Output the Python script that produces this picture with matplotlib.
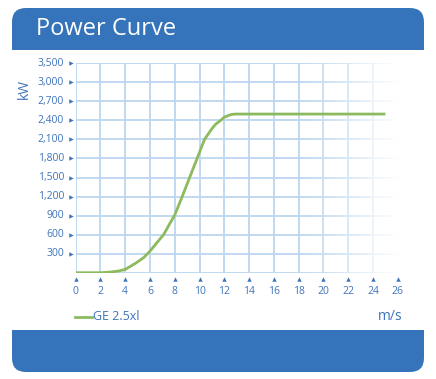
import numpy as np
import matplotlib.pyplot as plt
from matplotlib.patches import FancyBboxPatch, Rectangle
from matplotlib.transforms import blended_transform_factory

plt.rcParams['font.family'] = ['Open Sans', 'DejaVu Sans']

# data
wind_speed = [0, 2, 2.8, 3.5, 4, 4.9, 5.5, 6, 6.5, 7.1, 7.5, 8, 8.6, 9.2, 9.8,
              10.4, 11, 11.3, 11.7, 12, 12.3, 12.5, 12.7, 12.9, 25]
power_kw = [0, 0, 10, 28, 52, 157, 240, 340, 460, 600, 740, 910, 1200, 1500, 1800,
            2100, 2270, 2340, 2400, 2450, 2475, 2490, 2497, 2500, 2500]
x_ticks = list(range(0, 27, 2))
y_ticks = [300, 600, 900, 1200, 1500, 1800, 2100, 2400, 2700, 3000, 3300]
y_labels = ['300', '600', '900', '1,200', '1,500', '1,800', '2,100', '2,400',
            '2,700', '3,000', '3,500']
series_name = 'GE 2.5xl'

W, H = 436, 379
blue = '#3574bb'
txt = '#3e74ba'
grid_c = '#bcd7ef'
green = '#8cbb5e'

fig = plt.figure(figsize=(W / 100, H / 100), dpi=100)
fig.patch.set_facecolor('white')


def px(x, y):
    return x / W, 1 - y / H


# header bar (rounded top corners)
r = 14
hx0, hx1, hy0, hy1 = 12, 424, 8, 50
fig.patches.append(FancyBboxPatch((hx0 / W, 1 - hy1 / H), (hx1 - hx0) / W, (hy1 - hy0) / H,
                                  boxstyle=f'round,pad=0,rounding_size={r / W}',
                                  transform=fig.transFigure, fc=blue, ec='none',
                                  mutation_aspect=W / H))
fig.patches.append(Rectangle((hx0 / W, 1 - hy1 / H), (hx1 - hx0) / W, (hy1 - hy0) / 2 / H,
                             transform=fig.transFigure, fc=blue, ec='none'))
fig.text(*px(36, 29), 'Power Curve', color='white', fontsize=17, va='center', ha='left')

# footer bar (rounded bottom corners)
fy0, fy1 = 330, 372
fig.patches.append(FancyBboxPatch((hx0 / W, 1 - fy1 / H), (hx1 - hx0) / W, (fy1 - fy0) / H,
                                  boxstyle=f'round,pad=0,rounding_size={r / W}',
                                  transform=fig.transFigure, fc=blue, ec='none',
                                  mutation_aspect=W / H))
fig.patches.append(Rectangle((hx0 / W, 1 - (fy0 + (fy1 - fy0) / 2) / H), (hx1 - hx0) / W,
                             (fy1 - fy0) / 2 / H, transform=fig.transFigure, fc=blue, ec='none'))

# plot area
x0, x1, y0, y1 = 75.7, 397.7, 63.3, 272.7
ax = fig.add_axes([x0 / W, 1 - y1 / H, (x1 - x0) / W, (y1 - y0) / H])
for s in ax.spines.values():
    s.set_visible(False)
ax.set_xticks([])
ax.set_yticks([])

for xt in x_ticks:
    ax.axvline(xt, color=grid_c, lw=1.3, zorder=1)
for yt in [0] + y_ticks:
    ax.axhline(yt, color=grid_c, lw=1.3, zorder=1)

# fade the grid out to the right
grad = np.zeros((2, 200, 4))
grad[..., :3] = 1
grad[..., 3] = np.linspace(0, 1, 200) ** 1.2
ax.imshow(grad, extent=[18, 26, -50, 3350], aspect='auto', zorder=2, interpolation='bilinear')
ax.set_xlim(0, 26)
ax.set_ylim(0, 3300)

ax.plot(wind_speed, power_kw, color=green, lw=2, zorder=3, solid_capstyle='butt',
        solid_joinstyle='round')

# tick markers and labels
tx = blended_transform_factory(ax.transData, fig.transFigure)
ty = blended_transform_factory(fig.transFigure, ax.transData)
for xt in x_ticks:
    ax.plot([xt], [1 - 279 / H], marker='^', ms=3.2, color=txt, mec='none',
            transform=tx, clip_on=False)
    ax.text(xt, 1 - 291 / H, str(xt), transform=tx, ha='center', va='center',
            color=txt, fontsize=7.5)
for yt, lab in zip(y_ticks, y_labels):
    ax.plot([70.5 / W], [yt], marker='>', ms=3.2, color=txt, mec='none',
            transform=ty, clip_on=False)
    ax.text(64 / W, yt, lab, transform=ty, ha='right', va='center',
            color=txt, fontsize=7.5)

fig.text(*px(24, 89), 'kW', rotation=90, color=txt, fontsize=10, ha='center', va='center')

# legend and unit
fig.lines.append(plt.Line2D([75 / W, 92 / W], [1 - 317 / H] * 2, color=green, lw=2,
                            transform=fig.transFigure))
fig.text(*px(93, 317), series_name, color=txt, fontsize=9, ha='left', va='center')
fig.text(*px(402, 316), 'm/s', color=txt, fontsize=10, ha='right', va='center')

fig.savefig('out.png', dpi=100, facecolor='white')
